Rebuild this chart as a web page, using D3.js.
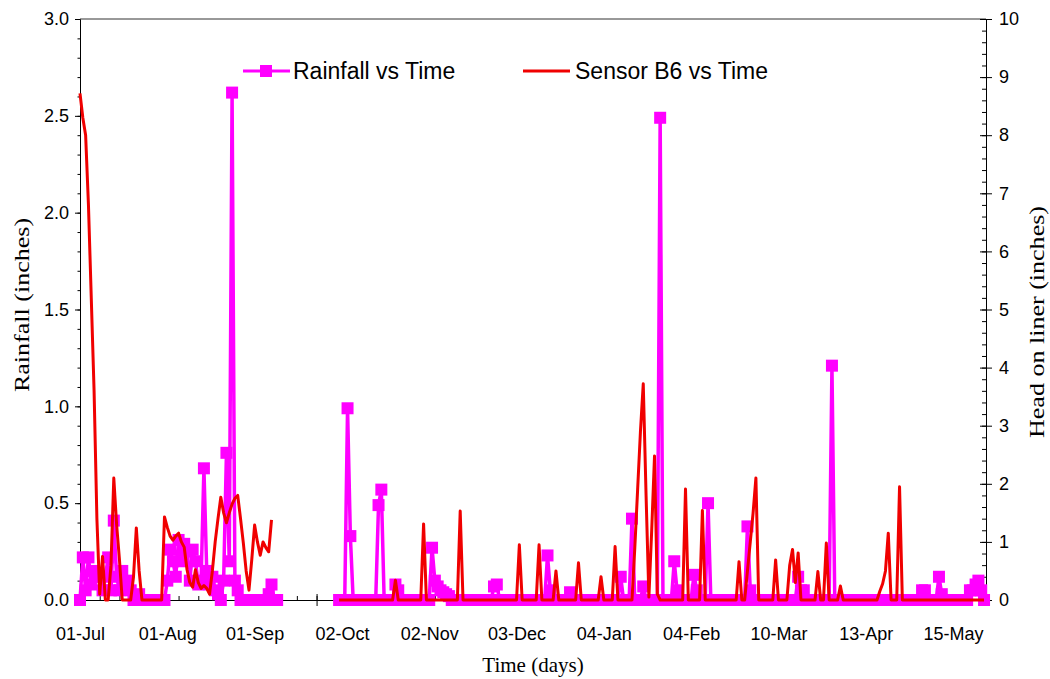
<!DOCTYPE html>
<html><head><meta charset="utf-8">
<script src="https://cdn.jsdelivr.net/npm/d3@7"></script>
<style>body{margin:0;background:#fff}svg{display:block}</style>
</head><body>
<svg id="chart" width="1050" height="679"></svg>
<script>
// ---- data ----
const xTickLabels = ["01-Jul","01-Aug","01-Sep","02-Oct","02-Nov","03-Dec","04-Jan","04-Feb","10-Mar","13-Apr","15-May"];
const xLabelDays = [0,31,62,93,124,155,186,217,248,279,310];
const leftTicks = [0,0.5,1.0,1.5,2.0,2.5,3.0];
const rightTicks = [0,1,2,3,4,5,6,7,8,9,10];

// Rainfall (inches), daily, segment 1 starts at day 0
const rainStart1 = 0;
const rain1 = [
  0,0.22,0.05,0.22,0.08,0.15,0.12,0.12,0.05,0.12,
  0.22,0.05,0.41,0.12,0.05,0.15,0.08,0.1,0.05,0,
  0,0.03,0,0,0,0,0,0,0,0,
  0,0.1,0.26,0.2,0.12,0.31,0.2,0.29,0.25,0.1,
  0.26,0.2,0.08,0.1,0.68,0.15,0.08,0.12,0.05,0.03,
  0,0.1,0.76,0.2,2.62,0.1,0.05,0,0,0,
  0,0,0,0,0,0,0,0.03,0.08,0,
  0
];
// Rainfall segment 2 starts at day 92
const rainStart2 = 92;
const rain2 = [
  0,0,0,0.99,0.33,0,0,0,0,0,
  0,0,0,0,0.49,0.57,0,0,0,0,
  0.08,0.05,0,0,0,0,0,0,0,0,
  0,0,0,0.27,0.1,0.07,0.05,0.04,0.03,0.02,
  0,0,0,0,0,0,0,0,0,0,
  0,0,0,0,0,0.07,0.08,0,0,0,
  0,0,0,0,0,0,0,0,0,0,
  0,0,0,0,0.23,0.05,0,0,0,0,
  0,0,0.04,0,0,0,0,0,0,0,
  0,0,0,0,0,0,0,0,0,0,
  0.12,0,0,0,0.42,0,0,0,0.07,0,
  0,0,0,0,2.49,0,0,0,0,0.2,
  0.05,0,0,0,0,0,0.13,0.05,0,0,
  0,0.5,0,0,0,0,0,0,0,0,
  0,0,0,0,0,0.38,0.05,0,0,0,
  0,0,0,0,0,0,0,0,0,0,
  0,0,0,0.12,0.05,0.05,0,0,0,0,
  0,0,0,0,0,1.21,0,0,0,0,
  0,0,0,0,0,0,0,0,0,0,
  0,0,0,0,0,0,0,0,0,0,
  0,0,0,0,0,0,0,0.05,0.05,0,
  0,0,0,0.12,0.03,0,0,0,0,0,
  0,0,0,0,0.05,0.05,0.08,0.1,0.05,0
];

// Sensor B6 head on liner (inches), segment 1 daily from day 0
const sensorStart1 = 0;
const sensor1 = [
  8.72,8.3,8.0,6.8,5.2,3.6,1.4,0.1,0.75,0,
  0,0.6,2.1,1.3,0.7,0,0,0,0,0.4,
  1.24,0.5,0,0,0,0,0,0,0,0,
  1.43,1.25,1.1,1.03,1.1,1.15,1.0,0.91,0.52,0.3,
  0.22,0.52,0.3,0.2,0.25,0.2,0.1,0.5,1.0,1.4,
  1.77,1.5,1.33,1.5,1.65,1.75,1.8,1.4,0.98,0.5,
  0.17,0.7,1.29,1.0,0.77,1.0,0.9,0.83,1.38
];
// Sensor B6 segment 2 (day, head)
const sensorDays2 = [92,111,112,113,121,122,123,134,135,136,155,156,157,162,163,164,168,169,170,176,177,178,184,185,186,189,190,191,
  196,197,198,199,200,201,202,203,204,205,206,214,215,216,220,221,222,233,234,235,236,237,238,239,240,241,246,247,248,
  251,252,253,254,255,256,261,262,263,264,265,266,269,270,271,283,284,285,286,287,288,290,291,292,321];
const sensorVals2 = [0,0,0.34,0,0,1.31,0,0,1.53,0,0,0.95,0,0,0.95,0,0,0.5,0,0,0.64,0,0,0.4,0,0,0.92,0,
  0,0.9,1.9,2.9,3.72,1.8,0.05,1.2,2.48,0.1,0,0,1.91,0,0,1.54,0,0,0.66,0,0,0.5,1.0,1.5,2.1,0,0,0.69,0,
  0,0.6,0.87,0.3,0.81,0,0,0.49,0,0,0.98,0,0,0.24,0,0,0.15,0.28,0.5,1.15,0,0,1.95,0,0];

// ---- build ----
const svg = d3.select("#chart");
const x = d3.scaleLinear().domain([0, 321.7]).range([80, 986]);
const yL = d3.scaleLinear().domain([0, 3]).range([600, 19]);
const yR = d3.scaleLinear().domain([0, 10]).range([600, 19]);

const MAG = "#ff00ff", RED = "#f00000";
const sans = "'Liberation Sans', Arial, sans-serif";
const serif = "'Liberation Serif', 'Times New Roman', serif";

function seq(start, vals){ return vals.map((v,i)=>({d:start+i, v})); }
const rainSegs = [seq(rainStart1, rain1), seq(rainStart2, rain2)];
const sensorSegs = [seq(sensorStart1, sensor1), sensorDays2.map((d,i)=>({d, v:sensorVals2[i]}))];

// frame: top line
svg.append("line").attr("x1", x(0)).attr("x2", x(321.7)).attr("y1", yL(3)).attr("y2", yL(3))
  .attr("stroke", "#333").attr("stroke-width", 1);

function styleAxis(g){
  g.selectAll("path.domain").attr("stroke","#000").attr("stroke-width",1);
  g.selectAll(".tick line").attr("stroke","#000").attr("stroke-width",1);
  g.selectAll("text").attr("font-family", sans).attr("font-size", 18).attr("fill","#000");
}
// left axis
const leftMinor = d3.range(0, 3.0001, 0.1);
svg.append("g").attr("transform","translate(80,0)")
  .call(d3.axisLeft(yL).tickValues(leftMinor).tickSize(2.5).tickFormat("").tickSizeOuter(0)).call(styleAxis);
svg.append("g").attr("transform","translate(80,0)")
  .call(d3.axisLeft(yL).tickValues(leftTicks).tickSize(5).tickPadding(6).tickFormat(d3.format(".1f")).tickSizeOuter(0)).call(styleAxis);
// right axis
const rightMinor = d3.range(0, 10.0001, 0.2);
svg.append("g").attr("transform","translate(986,0)")
  .call(d3.axisLeft(yR).tickValues(rightMinor).tickSize(4).tickFormat("").tickSizeOuter(0)).call(styleAxis);
svg.append("g").attr("transform","translate(986,0)")
  .call(d3.axisLeft(yR).tickValues(rightTicks).tickSize(6).tickFormat("").tickSizeOuter(0)).call(styleAxis);
svg.append("g").attr("transform","translate(986,0)")
  .call(d3.axisRight(yR).tickValues(rightTicks).tickSize(6).tickPadding(7).tickFormat(d3.format("d")).tickSizeOuter(0)).call(styleAxis);
// bottom axis
const xMajor = d3.range(0, 321, 28);
const xMinor = d3.range(0, 321, 7);
svg.append("g").attr("transform","translate(0,600)")
  .call(d3.axisTop(x).tickValues(xMinor).tickSize(4).tickFormat("").tickSizeOuter(0)).call(styleAxis);
svg.append("g").attr("transform","translate(0,600)")
  .call(d3.axisTop(x).tickValues(xMajor).tickSize(6).tickFormat("").tickSizeOuter(0)).call(styleAxis);
svg.append("g").attr("transform","translate(0,600)")
  .call(d3.axisBottom(x).tickValues(xMajor).tickSize(6).tickFormat("").tickSizeOuter(0)).call(styleAxis);
svg.append("g").attr("transform","translate(0,600)")
  .call(d3.axisBottom(x).tickValues(xLabelDays).tickSize(0).tickPadding(27)
    .tickFormat((d,i)=>xTickLabels[i]).tickSizeOuter(0)).call(styleAxis)
  .select("path.domain").remove();

// rainfall series
const rainLine = d3.line().x(p=>x(p.d)).y(p=>yL(p.v));
const gRain = svg.append("g");
rainSegs.forEach(seg=>{
  gRain.append("path").datum(seg).attr("d", rainLine).attr("fill","none")
    .attr("stroke", MAG).attr("stroke-width", 3.5).attr("stroke-linejoin","round");
  gRain.selectAll(null).data(seg).enter().append("rect")
    .attr("x", p=>x(p.d)-6).attr("y", p=>yL(p.v)-6).attr("width",12).attr("height",12).attr("fill", MAG);
});
// sensor series
const sensorLine = d3.line().x(p=>x(p.d)).y(p=>yR(p.v));
sensorSegs.forEach(seg=>{
  svg.append("path").datum(seg).attr("d", sensorLine).attr("fill","none")
    .attr("stroke", RED).attr("stroke-width", 3).attr("stroke-linejoin","round");
});

// legend
const lg = svg.append("g");
lg.append("line").attr("x1",243).attr("x2",290).attr("y1",71).attr("y2",71).attr("stroke",MAG).attr("stroke-width",3);
lg.append("rect").attr("x",260).attr("y",65).attr("width",12).attr("height",12).attr("fill",MAG);
lg.append("text").attr("x",293).attr("y",79).text("Rainfall vs Time")
  .attr("font-family",sans).attr("font-size",23).attr("fill","#000");
lg.append("line").attr("x1",523).attr("x2",570).attr("y1",71).attr("y2",71).attr("stroke",RED).attr("stroke-width",3);
lg.append("text").attr("x",575).attr("y",79).text("Sensor B6 vs Time")
  .attr("font-family",sans).attr("font-size",23).attr("fill","#000");

// axis titles
svg.append("text").attr("x",533).attr("y",672).attr("text-anchor","middle")
  .attr("font-family",serif).attr("font-size",21).text("Time (days)");
svg.append("text").attr("transform","translate(29,305) rotate(-90) scale(1.24,1)").attr("text-anchor","middle")
  .attr("font-family",serif).attr("font-size",21).text("Rainfall (inches)");
svg.append("text").attr("transform","translate(1044,322) rotate(-90) scale(1.24,1)").attr("text-anchor","middle")
  .attr("font-family",serif).attr("font-size",21).text("Head on liner (inches)");
</script>
</body></html>
